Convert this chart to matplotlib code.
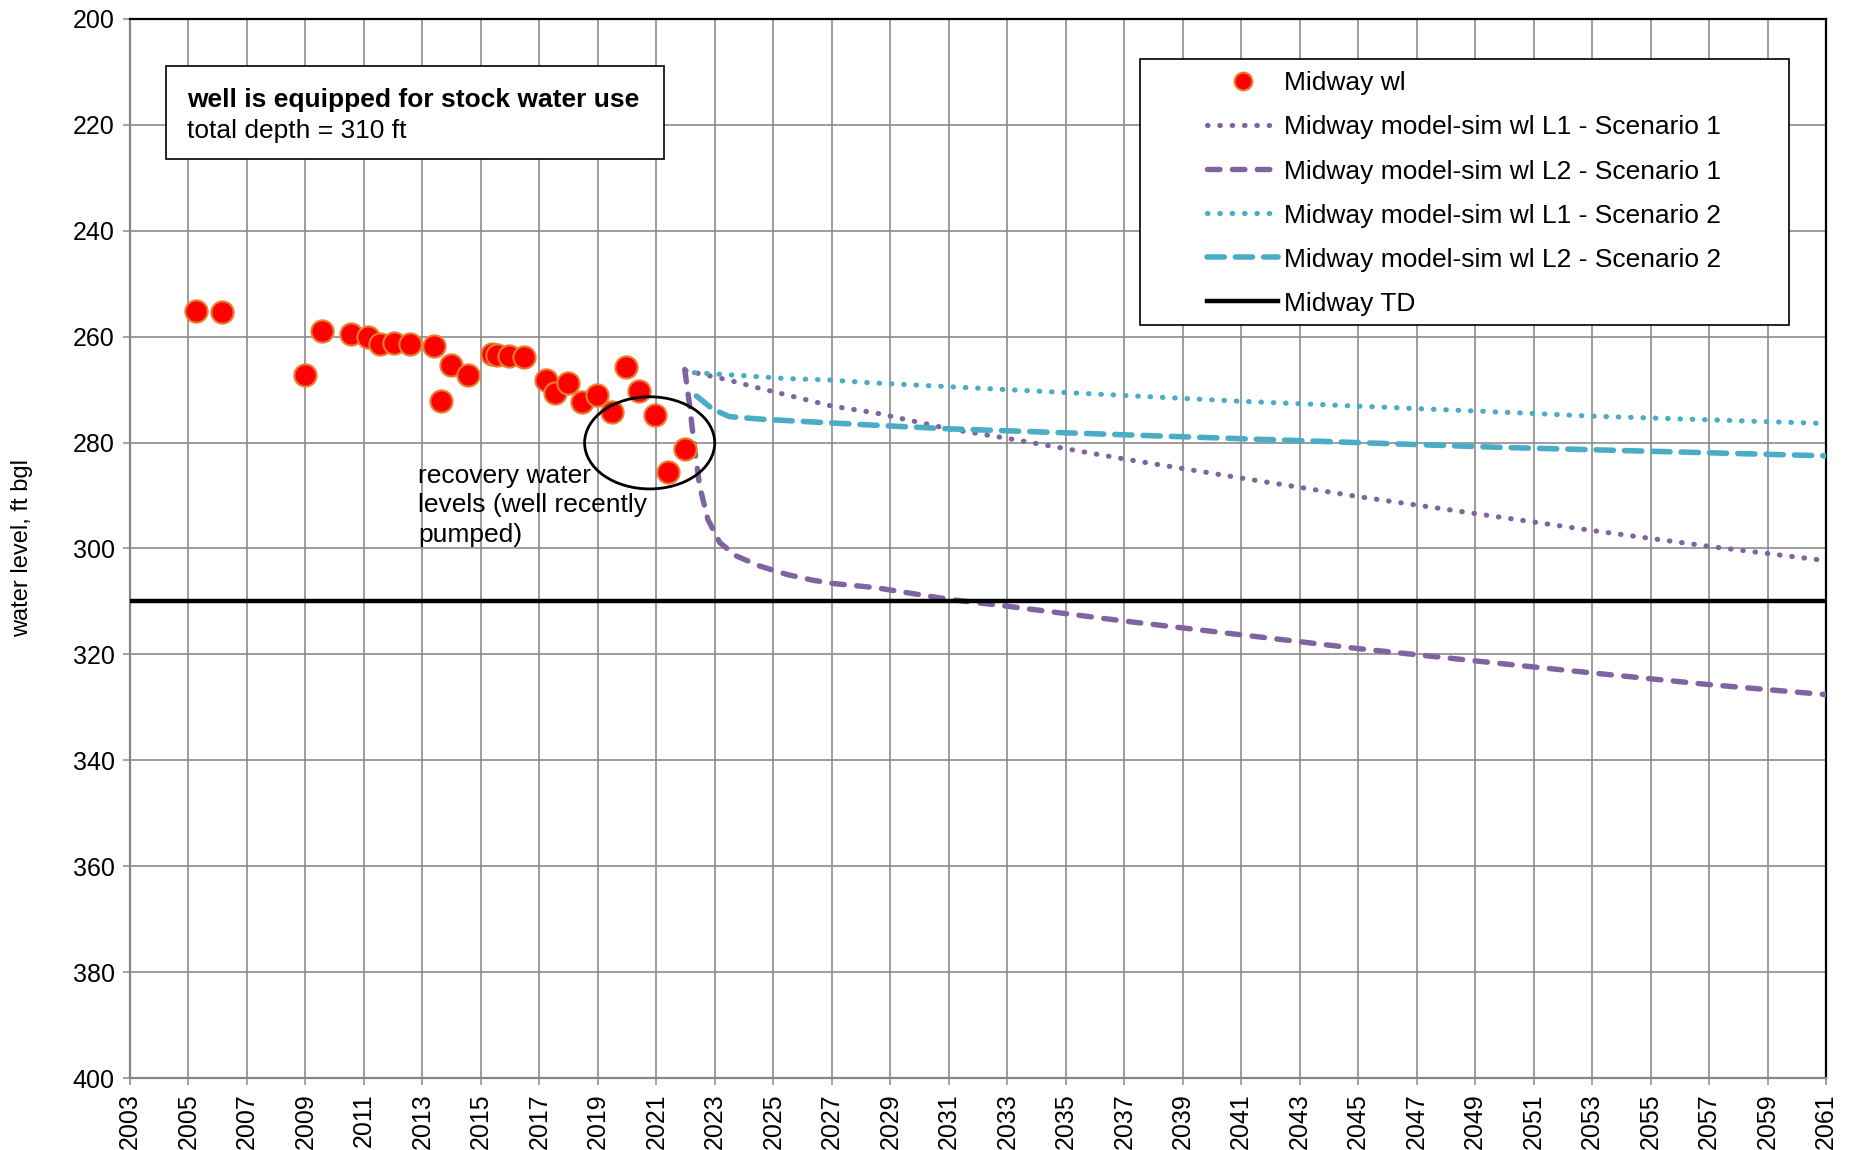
import matplotlib
matplotlib.use("Agg")
import matplotlib.pyplot as plt
from matplotlib.patches import Ellipse, Rectangle
import numpy as np

plt.rcParams['font.family'] = ['Liberation Sans', 'DejaVu Sans']

# measured water levels (ft below ground)
obs_year = [2005.25, 2006.16, 2009.0, 2009.58, 2010.57, 2011.13, 2011.56, 2012.03,
            2012.56, 2013.39, 2013.65, 2013.97, 2014.56, 2015.37, 2015.55, 2015.97,
            2016.46, 2017.21, 2017.54, 2017.98, 2018.45, 2018.97, 2019.48, 2019.96,
            2020.40, 2020.97, 2021.39, 2021.97]
obs_wl = [255.1, 255.4, 267.3, 259.0, 259.5, 260.1, 261.3, 261.1,
          261.3, 261.7, 272.2, 265.4, 267.3, 263.2, 263.5, 263.6,
          263.8, 268.1, 270.6, 268.8, 272.3, 271.1, 274.2, 265.8,
          270.2, 274.8, 285.5, 281.3]

# model simulated levels
s1_l1_year = [2022.0, 2023.4, 2024.5, 2025.9, 2027.0, 2028.5, 2031, 2033, 2037,
              2041, 2045, 2050, 2053, 2057, 2061]
s1_l1_wl = [266.4, 268.1, 269.7, 271.6, 273.1, 274.4, 277.4, 279.2, 283.1,
            286.7, 290.2, 294.2, 296.6, 299.6, 302.3]

s1_l2_year = [2021.97, 2022.14, 2022.31, 2022.48, 2022.76, 2023.17, 2023.73, 2024.53,
              2025.46, 2026.36, 2027.03, 2028.5, 2031, 2033, 2037, 2041, 2045,
              2050, 2053, 2057, 2061]
s1_l2_wl = [266.2, 273.1, 281.3, 288.2, 294.5, 298.9, 301.4, 303.3,
            304.9, 306.0, 306.6, 307.4, 309.6, 310.9, 313.7, 316.3, 318.9,
            321.8, 323.5, 325.7, 327.6]

s2_l1_year = [2022.3, 2024.1, 2025.4, 2027.0, 2028.3, 2033, 2041, 2050.15, 2053, 2057, 2061]
s2_l1_wl = [266.8, 267.4, 267.9, 268.2, 268.7, 270.0, 272.2, 274.3, 275.0, 275.7, 276.4]

s2_l2_year = [2022.37, 2022.93, 2023.5, 2024.64, 2026.35, 2028.4, 2031, 2039, 2049.86, 2061]
s2_l2_wl = [271.2, 273.7, 275.1, 275.6, 276.1, 276.7, 277.4, 278.9, 280.9, 282.5]

total_depth = 310

purple = '#8064A2'
aqua = '#4BACC6'

fig = plt.figure(figsize=(18.52, 11.5), dpi=100)
ax = fig.add_axes([0.0702, 0.0626, 0.9158, 0.9209])

ax.set_xlim(2003, 2061)
ax.set_ylim(400, 200)
ax.set_xticks(np.arange(2003, 2062, 2))
ax.set_yticks(np.arange(200, 401, 20))
ax.grid(True, color='#8c8c8c', linewidth=1.2, zorder=0)
ax.set_axisbelow(True)

ax.tick_params(axis='x', labelrotation=90, labelsize=18, length=5, width=1.1,
               color='#8c8c8c', pad=6)
ax.tick_params(axis='y', labelsize=18, length=5, width=1.1, color='#8c8c8c', pad=6)
for side in ['left', 'bottom']:
    ax.spines[side].set_color('#868686')
    ax.spines[side].set_linewidth(1.6)
for side in ['top', 'right']:
    ax.spines[side].set_color('black')
    ax.spines[side].set_linewidth(1.6)

ax.set_ylabel('water level, ft bgl', fontsize=17)
ax.yaxis.set_label_coords(-0.057, 0.5)

ax.plot(obs_year, obs_wl, linestyle='none', marker='o', markersize=16,
        markerfacecolor='#FF0000', markeredgecolor='#E97E2E', markeredgewidth=1.5,
        label='Midway wl', zorder=4)
ax.plot(s1_l1_year, s1_l1_wl, color=purple, linewidth=3.7, dashes=(0.1, 2.3),
        dash_capstyle='round', label='Midway model-sim wl L1 - Scenario 1', zorder=3)
ax.plot(s1_l2_year, s1_l2_wl, color=purple, linewidth=3.9, dashes=(2.3, 2.3),
        dash_capstyle='round', label='Midway model-sim wl L2 - Scenario 1', zorder=3)
ax.plot(s2_l1_year, s2_l1_wl, color=aqua, linewidth=3.7, dashes=(0.1, 2.3),
        dash_capstyle='round', label='Midway model-sim wl L1 - Scenario 2', zorder=3)
ax.plot(s2_l2_year, s2_l2_wl, color=aqua, linewidth=4.0, dashes=(3.1, 2.0),
        dash_capstyle='round', label='Midway model-sim wl L2 - Scenario 2', zorder=3)
ax.axhline(total_depth, color='black', linewidth=3.2, label='Midway TD', zorder=3)

# circle around the recovery levels
ax.add_patch(Ellipse((2020.77, 280.05), 4.45, 17.4, fill=False, edgecolor='black',
                     linewidth=2, zorder=5))
ax.text(2012.85, 284.0, 'recovery water\nlevels (well recently\npumped)', fontsize=19,
        va='top', ha='left', linespacing=1.3, zorder=5)

# info box
ax.add_patch(Rectangle((0.0212, 0.8678), 0.2937, 0.0878, transform=ax.transAxes,
                       facecolor='white', edgecolor='black', linewidth=1.2, zorder=6))
ax.text(0.0336, 0.9232, 'well is equipped for stock water use', transform=ax.transAxes,
        fontsize=19, fontweight='bold', va='center', ha='left', zorder=7)
ax.text(0.0336, 0.8939, 'total depth = 310 ft', transform=ax.transAxes,
        fontsize=19, va='center', ha='left', zorder=7)

# legend frame drawn by hand to get the wide left padding
ax.add_patch(Rectangle((0.5955, 0.711), 0.3825, 0.2512, transform=ax.transAxes,
                       facecolor='white', edgecolor='black', linewidth=1.2, zorder=6))
leg = ax.legend(loc='upper left', bbox_to_anchor=(0.635, 0.9505), frameon=False,
                fontsize=19, borderaxespad=0, borderpad=0, handlelength=2.7,
                handletextpad=0.2, labelspacing=0.76, markerscale=0.8)
leg.set_zorder(7)

fig.savefig('out.png', dpi=100)
